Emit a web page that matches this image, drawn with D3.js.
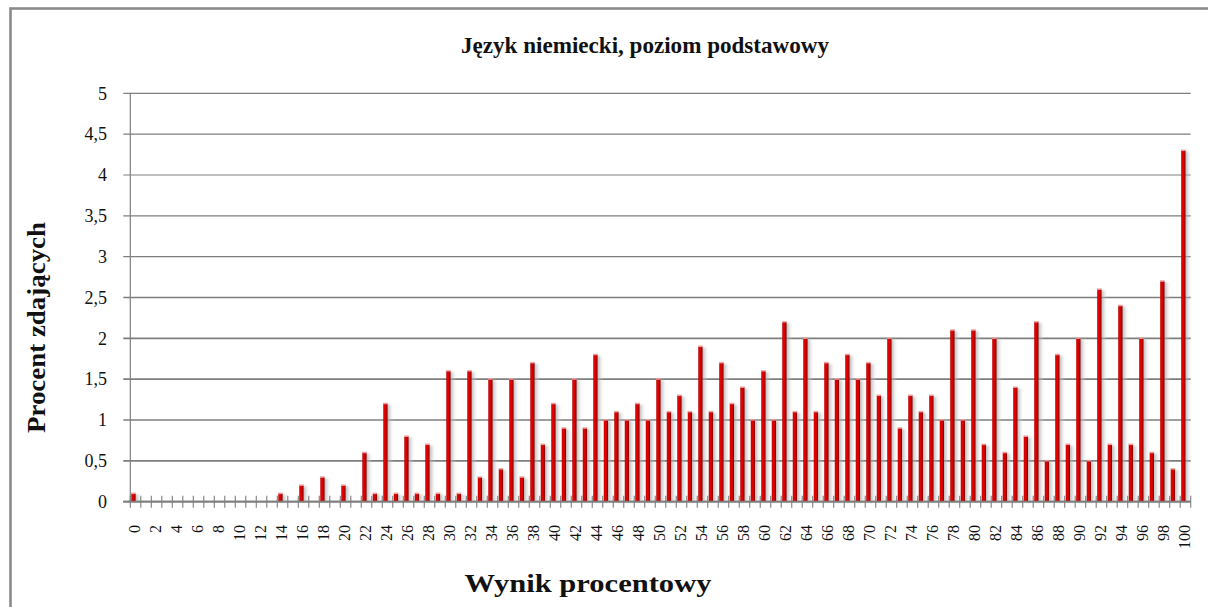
<!DOCTYPE html>
<html><head><meta charset="utf-8">
<script src="https://cdn.jsdelivr.net/npm/d3@7"></script>
<style>body{margin:0;background:#fff;overflow:hidden}</style>
</head><body>
<svg id="chart" width="1208" height="607"></svg>
<script>
const categories = [0,1,2,3,4,5,6,7,8,9,10,11,12,13,14,15,16,17,18,19,20,21,22,23,24,25,26,27,28,29,30,31,32,33,34,35,36,37,38,39,40,41,42,43,44,45,46,47,48,49,50,51,52,53,54,55,56,57,58,59,60,61,62,63,64,65,66,67,68,69,70,71,72,73,74,75,76,77,78,79,80,81,82,83,84,85,86,87,88,89,90,91,92,93,94,95,96,97,98,99,100];
const values = [0.1,0,0,0,0,0,0,0,0,0,0,0,0,0,0.1,0,0.2,0,0.3,0,0.2,0,0.6,0.1,1.2,0.1,0.8,0.1,0.7,0.1,
  1.6,0.1,1.6,0.3,1.5,0.4,1.5,0.3,1.7,0.7,1.2,0.9,1.5,0.9,1.8,1.0,1.1,1.0,1.2,1.0,
  1.5,1.1,1.3,1.1,1.9,1.1,1.7,1.2,1.4,1.0,1.6,1.0,2.2,1.1,2.0,1.1,1.7,1.5,1.8,1.5,
  1.7,1.3,2.0,0.9,1.3,1.1,1.3,1.0,2.1,1.0,2.1,0.7,2.0,0.6,1.4,0.8,2.2,0.5,1.8,0.7,
  2.0,0.5,2.6,0.7,2.4,0.7,2.0,0.6,2.7,0.4,4.3];
const xTickLabels = ["0","2","4","6","8","10","12","14","16","18","20","22","24","26","28","30","32","34","36","38","40","42","44","46","48","50","52","54","56","58","60","62","64","66","68","70","72","74","76","78","80","82","84","86","88","90","92","94","96","98","100"];
const yTickValues = [0,0.5,1,1.5,2,2.5,3,3.5,4,4.5,5];
const yTickLabels = ["0","0,5","1","1,5","2","2,5","3","3,5","4","4,5","5"];
const chartTitle = "Język niemiecki, poziom podstawowy";
const xTitle = "Wynik procentowy";
const yTitle = "Procent zdających";

const svg = d3.select("#chart");
const L = 130.3, R = 1190.7, T = 93.3, B = 501.7;
const grid = "#7e7e7e";

const x = d3.scaleBand().domain(categories).range([L, R]).padding(0);
const y = d3.scaleLinear().domain([0, 5]).range([B, T]);

const defs = svg.append("defs");
const g1 = defs.append("linearGradient").attr("id","barGrad").attr("x1","0").attr("x2","1").attr("y1","0").attr("y2","0");
g1.append("stop").attr("offset","0%").attr("stop-color","#b80000");
g1.append("stop").attr("offset","25%").attr("stop-color","#e80000");
g1.append("stop").attr("offset","60%").attr("stop-color","#d60000");
g1.append("stop").attr("offset","100%").attr("stop-color","#780000");
const g2 = defs.append("linearGradient").attr("id","shGrad").attr("x1","0").attr("x2","1").attr("y1","0").attr("y2","0");
g2.append("stop").attr("offset","0%").attr("stop-color","#909090").attr("stop-opacity",0.9);
g2.append("stop").attr("offset","100%").attr("stop-color","#d8d8d8").attr("stop-opacity",0.15);
defs.append("filter").attr("id","blur").attr("x","-50%").attr("y","-10%").attr("width","200%").attr("height","120%")
  .append("feGaussianBlur").attr("stdDeviation", 1.3);

// frame
svg.append("rect").attr("x",10.5).attr("y",8.5).attr("width",1300).attr("height",700)
  .attr("fill","#fff").attr("stroke","#8a8a8a").attr("stroke-width",2.6);

// gridlines
svg.append("g").selectAll("line").data(yTickValues).join("line")
  .attr("x1", L - 7).attr("x2", R)
  .attr("y1", d => y(d)).attr("y2", d => y(d))
  .attr("stroke", grid).attr("stroke-width", d => d <= 2.5 ? 1.7 : 1.2);

// y axis labels
svg.append("g").selectAll("text").data(yTickValues).join("text")
  .attr("x", 107).attr("y", d => y(d)).attr("dy", "0.35em")
  .attr("text-anchor", "end")
  .attr("font-family", "Liberation Serif, Times New Roman, serif")
  .attr("font-size", 18).attr("fill", "#111")
  .text((d, i) => yTickLabels[i]);

// y axis line
svg.append("line").attr("x1", L).attr("x2", L).attr("y1", T).attr("y2", B)
  .attr("stroke", grid).attr("stroke-width", 1.2);

// shadows
const bars = categories.map((c, i) => ({c, v: values[i]})).filter(d => d.v > 0);
svg.append("g").attr("filter","url(#blur)").selectAll("rect").data(bars).join("rect")
  .attr("x", d => x(d.c) + 4).attr("width", 6)
  .attr("y", d => y(d.v) + 1).attr("height", d => B - y(d.v) - 1)
  .attr("fill", "url(#shGrad)");

// bars
svg.append("g").selectAll("rect").data(bars).join("rect")
  .attr("x", d => x(d.c) + 1).attr("width", 4.3)
  .attr("y", d => y(d.v)).attr("height", d => B - y(d.v))
  .attr("fill", "url(#barGrad)");
// caps
svg.append("g").selectAll("rect").data(bars).join("rect")
  .attr("x", d => x(d.c) + 0.8).attr("width", 4.7)
  .attr("y", d => y(d.v) - 1).attr("height", 1.6)
  .attr("fill", "#e9a1a1").attr("opacity", 0.9);

// x axis line and ticks
svg.append("line").attr("x1", L - 7).attr("x2", R).attr("y1", B).attr("y2", B)
  .attr("stroke", grid).attr("stroke-width", 1.7);
svg.append("g").selectAll("line").data(categories.concat(["end"])).join("line")
  .attr("x1", d => d === "end" ? R : x(d)).attr("x2", d => d === "end" ? R : x(d))
  .attr("y1", B - 6).attr("y2", B + 6)
  .attr("stroke", grid).attr("stroke-width", 1.1);

// x tick labels
svg.append("g").selectAll("text").data(xTickLabels).join("text")
  .attr("transform", d => `translate(${x(+d) + 4},525) rotate(-90)`)
  .attr("dy", "0.35em").attr("text-anchor", "end")
  .attr("font-family", "Liberation Serif, Times New Roman, serif")
  .attr("font-size", 16).attr("fill", "#111")
  .text(d => d);

// titles
svg.append("text").attr("x", 645).attr("y", 53).attr("text-anchor", "middle")
  .attr("font-family", "Liberation Serif, Times New Roman, serif").attr("font-weight", "bold")
  .attr("font-size", 24).attr("textLength", 368).attr("lengthAdjust","spacingAndGlyphs")
  .attr("fill", "#111").text(chartTitle);
svg.append("text").attr("x", 588).attr("y", 592).attr("text-anchor", "middle")
  .attr("font-family", "Liberation Serif, Times New Roman, serif").attr("font-weight", "bold")
  .attr("font-size", 25).attr("textLength", 247).attr("lengthAdjust","spacingAndGlyphs")
  .attr("fill", "#111").text(xTitle);
svg.append("text").attr("transform", "translate(45,327.5) rotate(-90)").attr("text-anchor", "middle")
  .attr("font-family", "Liberation Serif, Times New Roman, serif").attr("font-weight", "bold")
  .attr("font-size", 25).attr("textLength", 211).attr("lengthAdjust","spacingAndGlyphs")
  .attr("fill", "#111").text(yTitle);
</script>
</body></html>
